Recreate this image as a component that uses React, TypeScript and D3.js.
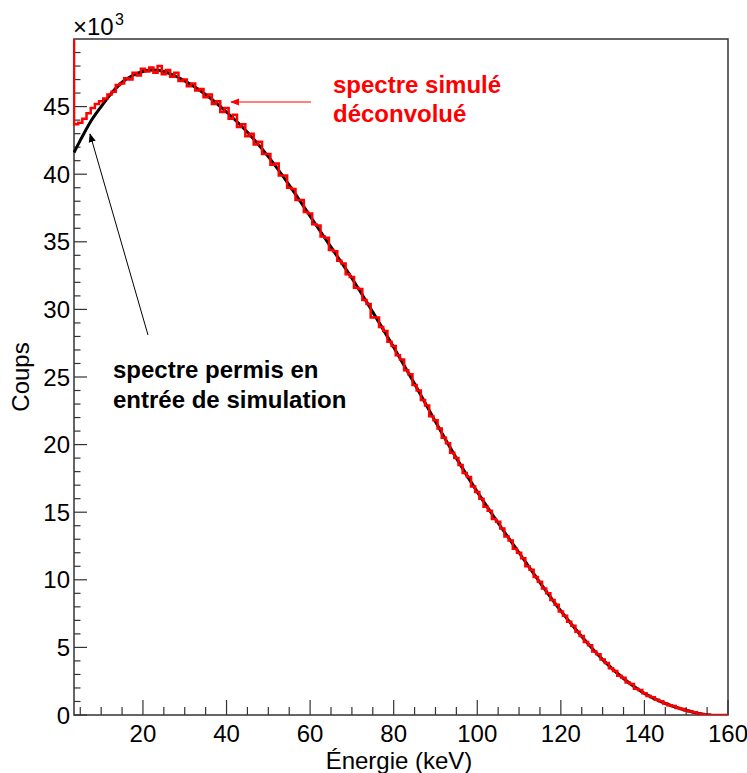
import React from "react";
import * as d3 from "d3";

// Black: input allowed spectrum (counts in units of 10^3)
const blackEnergy = [3.5, 5, 7.5, 10, 12.5, 15, 17.5, 20, 22.5, 25, 27.5, 30, 35, 40, 45, 50, 55, 60, 65, 70, 75, 80, 85, 90, 95, 100, 105, 110, 115, 120, 125, 130, 135, 140, 145, 150, 153, 155, 156];
const blackCounts = [41.6, 42.5, 43.9, 45.0, 46.0, 46.8, 47.3, 47.6, 47.7, 47.6, 47.3, 46.9, 45.9, 44.6, 43.1, 41.3, 39.2, 36.9, 34.6, 32.3, 29.8, 27.2, 24.5, 21.7, 19.0, 16.5, 14.2, 12.0, 9.8, 7.7, 5.8, 4.1, 2.7, 1.6, 0.85, 0.35, 0.12, 0.02, 0];

// Red: simulated deconvolved spectrum, 1 keV bins starting at 2.5 keV
const redBinStart = 2.5;
const redBinWidth = 1;
const redCounts = [56, 43.7, 43.8, 44.1, 44.5, 44.9, 45.2, 45.4, 45.6, 45.9, 46.1, 46.6, 46.7, 47.1, 47.0, 47.5, 47.3, 47.8, 47.6, 47.9, 47.5, 48.0, 47.4, 47.7, 47.2, 47.5, 46.9, 47.0, 46.5, 46.7, 46.2, 46.3, 45.7, 45.9, 45.2, 45.4, 44.6, 44.9, 44.1, 44.4, 43.5, 43.7, 42.8, 43.0, 42.2, 42.4, 41.5, 41.5, 40.7, 40.8, 39.9, 39.9, 39.0, 38.9, 38.1, 38.1, 37.2, 37.1, 36.3, 36.2, 35.4, 35.3, 34.4, 34.3, 33.6, 33.4, 32.6, 32.4, 31.6, 31.5, 30.7, 30.4, 29.4, 29.4, 28.7, 28.4, 27.6, 27.3, 26.6, 26.3, 25.5, 25.2, 24.4, 24.0, 23.3, 22.9, 22.1, 21.8, 21.2, 20.5, 20.1, 19.4, 19.0, 18.5, 17.9, 17.6, 16.9, 16.5, 16.0, 15.4, 15.1, 14.5, 14.3, 13.8, 13.2, 12.9, 12.3, 12.0, 11.6, 11.0, 10.75, 10.2, 9.85, 9.35, 9.0, 8.5, 8.15, 7.65, 7.35, 6.9, 6.6, 6.15, 5.85, 5.4, 5.15, 4.7, 4.5, 4.1, 3.85, 3.45, 3.25, 2.9, 2.75, 2.4, 2.3, 1.95, 1.85, 1.6, 1.4, 1.32, 1.12, 1.02, 0.85, 0.72, 0.66, 0.52, 0.45, 0.34, 0.26, 0.2, 0.11, 0.05, 0.01, 0, 0, 0, 0, 0];

const xMajorTicks = [20, 40, 60, 80, 100, 120, 140, 160];
const xMinorTicks = [5, 10, 15, 25, 30, 35, 45, 50, 55, 65, 70, 75, 85, 90, 95, 105, 110, 115, 125, 130, 135, 145, 150, 155];
const yMajorTicks = [0, 5, 10, 15, 20, 25, 30, 35, 40, 45];
const yMinorTicks = d3.range(1, 50).filter((v) => v % 5 !== 0);

const FONT = "'Liberation Sans', Arial, Helvetica, sans-serif";

export default function App() {
  const L = 74, R = 728, T = 39, B = 715;
  const x = d3.scaleLinear().domain([3.5, 160]).range([L, R]);
  const y = d3.scaleLinear().domain([0, 50]).range([B, T]);

  const blackPts = blackEnergy.map((e, i) => [e, blackCounts[i]] as [number, number]);
  const blackPath = d3.line<[number, number]>()
    .x((d) => x(d[0]))
    .y((d) => y(d[1]))
    .curve(d3.curveMonotoneX)(blackPts) || "";

  const redPts: [number, number][] = redCounts.map((v, i) => [redBinStart + i * redBinWidth, v]);
  redPts.push([redBinStart + redCounts.length * redBinWidth, redCounts[redCounts.length - 1]]);
  const redPath = d3.line<[number, number]>()
    .x((d) => x(d[0]))
    .y((d) => y(d[1]))
    .curve(d3.curveStepAfter)(redPts) || "";

  const axisColor = "#333";

  return (
    <svg width={747} height={773} style={{ position: "absolute", left: 0, top: 0, background: "#fff" }}
      fontFamily={FONT}>
      <defs>
        <clipPath id="plotclip">
          <rect x={L - 1} y={T} width={R - L + 1} height={B - T} />
        </clipPath>
        <marker id="arrRed" viewBox="0 0 10 10" refX="9" refY="5" markerWidth="9" markerHeight="9" markerUnits="userSpaceOnUse" orient="auto">
          <path d="M0,1 L10,5 L0,9 z" fill="red" />
        </marker>
        <marker id="arrBlack" viewBox="0 0 10 10" refX="9" refY="5" markerWidth="9" markerHeight="9" markerUnits="userSpaceOnUse" orient="auto">
          <path d="M0,1 L10,5 L0,9 z" fill="black" />
        </marker>
      </defs>
      <rect x={0} y={0} width={747} height={773} fill="#fff" />

      {/* frame */}
      <rect x={L} y={T} width={R - L} height={B - T} fill="none" stroke={axisColor} strokeWidth={1.5} />

      {/* x ticks */}
      {xMajorTicks.map((t) => (
        <line key={"xM" + t} x1={x(t)} x2={x(t)} y1={B} y2={B - 15} stroke={axisColor} strokeWidth={1.2} />
      ))}
      {xMinorTicks.map((t) => (
        <line key={"xm" + t} x1={x(t)} x2={x(t)} y1={B} y2={B - 8} stroke={axisColor} strokeWidth={1.2} />
      ))}
      {xMajorTicks.map((t) => (
        <text key={"xl" + t} x={x(t)} y={742} textAnchor="middle" fontSize={24} fill="#000">{t}</text>
      ))}

      {/* y ticks */}
      {yMajorTicks.map((t) => (
        <line key={"yM" + t} x1={L} x2={L + 13} y1={y(t)} y2={y(t)} stroke={axisColor} strokeWidth={1.2} />
      ))}
      {yMinorTicks.map((t) => (
        <line key={"ym" + t} x1={L} x2={L + 6.5} y1={y(t)} y2={y(t)} stroke={axisColor} strokeWidth={1.2} />
      ))}
      {yMajorTicks.map((t) => (
        <text key={"yl" + t} x={70} y={y(t) + 8.5} textAnchor="end" fontSize={24} fill="#000">{t}</text>
      ))}

      {/* exponent */}
      <text x={73} y={35} fontSize={24} fill="#000">×10</text>
      <text x={115} y={25} fontSize={16} fill="#000">3</text>

      {/* axis titles */}
      <text transform="translate(29,377) rotate(-90)" textAnchor="middle" fontSize={24} fill="#000">Coups</text>
      <text x={399} y={769} textAnchor="middle" fontSize={24} fill="#000">Énergie (keV)</text>

      {/* curves */}
      <g clipPath="url(#plotclip)">
        <path d={blackPath} fill="none" stroke="#000" strokeWidth={3} />
        <path d={redPath} fill="none" stroke="#ff0000" strokeWidth={2.5} strokeLinejoin="miter" />
      </g>

      {/* annotations */}
      <line x1={311} y1={102} x2={231} y2={102} stroke="red" strokeWidth={1} markerEnd="url(#arrRed)" />
      <text x={333} y={93} fontSize={24} fontWeight="bold" fill="red">spectre simulé</text>
      <text x={333} y={122} fontSize={24} fontWeight="bold" fill="red">déconvolué</text>

      <line x1={148} y1={335} x2={90} y2={134} stroke="#000" strokeWidth={1} markerEnd="url(#arrBlack)" />
      <text x={113} y={378} fontSize={24} fontWeight="bold" fill="#000">spectre permis en</text>
      <text x={113} y={408} fontSize={24} fontWeight="bold" fill="#000">entrée de simulation</text>
    </svg>
  );
}
